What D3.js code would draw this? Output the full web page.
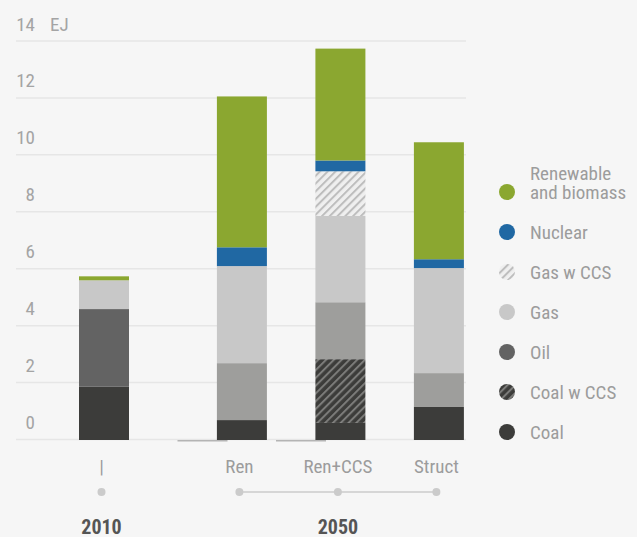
<!DOCTYPE html>
<html>
<head>
<meta charset="utf-8">
<script src="https://cdn.jsdelivr.net/npm/d3@7"></script>
<style>
    html, body { margin: 0; padding: 0; background: #f6f6f6; }
    svg text { font-family: 'Roboto Condensed', 'Liberation Sans Narrow', 'DejaVu Sans Condensed', sans-serif; }
</style>
</head>
<body>
<div id="d3container"></div>
<script>
// scenario columns, left to right
var categories = ['2010', 'Ren', 'Ren+CCS', 'Struct'];
var categoryLabels = ['|', 'Ren', 'Ren+CCS', 'Struct'];
var years = ['2010', '2050'];
var yearOf = ['2010', '2050', '2050', '2050'];
// columns that have an empty 2010 companion bar
var emptyBars = ['Ren', 'Ren+CCS'];

// series, stacked from the bottom up (EJ)
var seriesNames = ['Coal', 'Coal w CCS', 'Oil', 'Gas', 'Gas w CCS', 'Nuclear', 'Renewable and biomass'];
var coal = [1.87, 0.70, 0.60, 1.16];
var coalCCS = [0, 0, 2.24, 0];
var oil = [2.73, 2.00, 2.00, 1.19];
var gas = [1.01, 3.41, 3.03, 3.69];
var gasCCS = [0, 0, 1.57, 0];
var nuclear = [0, 0.66, 0.38, 0.31];
var renewable = [0.14, 5.30, 3.93, 4.11];

var yTicks = [0, 2, 4, 6, 8, 10, 12, 14];

var colors = {
    'Coal': '#3c3c3a',
    'Coal w CCS': 'url(#hatchDark)',
    'Oil': '#636363',
    'Gas': '#c8c8c8',
    'Gas w CCS': 'url(#hatchLight)',
    'Nuclear': '#2068a3',
    'Renewable and biomass': '#8ba730'
};
// oil is drawn lighter in the 2050 columns
var oil2050 = '#9e9e9c';

// build table for the stack
var table = categories.map(function (c, i) {
    return {
        cat: c,
        'Coal': coal[i],
        'Coal w CCS': coalCCS[i],
        'Oil': oil[i],
        'Gas': gas[i],
        'Gas w CCS': gasCCS[i],
        'Nuclear': nuclear[i],
        'Renewable and biomass': renewable[i]
    };
});

var svg = d3.select('#d3container').append('svg')
    .attr('width', 637)
    .attr('height', 537);

// hatch patterns for the CCS series
var defs = svg.append('defs');
function hatch(id, bg, fg) {
    var p = defs.append('pattern')
        .attr('id', id)
        .attr('patternUnits', 'userSpaceOnUse')
        .attr('width', 5.5)
        .attr('height', 5.5)
        .attr('patternTransform', 'rotate(45)');
    p.append('rect').attr('width', 5.5).attr('height', 5.5).attr('fill', bg);
    p.append('line')
        .attr('x1', 1).attr('x2', 1)
        .attr('y1', 0).attr('y2', 5.5)
        .attr('stroke', fg)
        .attr('stroke-width', 2);
}
hatch('hatchDark', '#3c3c3a', '#7c7c7a');
hatch('hatchLight', '#efefef', '#bdbdbd');

var y = d3.scaleLinear()
    .domain([0, 14])
    .range([440, 41.5]);

/*
 2050 columns are evenly spaced, the 2010 column
 sits a bit further to the left
 */
var x = d3.scalePoint()
    .domain(categories)
    .range([143.4, 438.9]);
var yearGap = 39.4;
var barWidth = 50;
function cx(c) {
    var i = categories.indexOf(c);
    return x(c) - (yearOf[i] === '2010' ? yearGap : 0);
}

// gridlines
svg.append('g')
    .selectAll('line')
    .data(yTicks)
    .join('line')
    .attr('x1', 16)
    .attr('x2', 466)
    .attr('y1', function (d) { return y(d) - 0.5; })
    .attr('y2', function (d) { return y(d) - 0.5; })
    .attr('stroke', '#e6e6e6')
    .attr('stroke-width', 1.5);

// y tick labels sit above the gridline
svg.append('g')
    .selectAll('text')
    .data(yTicks)
    .join('text')
    .attr('x', 35)
    .attr('y', function (d) { return y(d) - 11; })
    .attr('text-anchor', 'end')
    .attr('font-size', 19)
    .attr('fill', '#a4a4a4')
    .text(function (d) { return d; });

svg.append('text')
    .attr('x', 50)
    .attr('y', y(14) - 11)
    .attr('font-size', 19)
    .attr('fill', '#a4a4a4')
    .text('EJ');

// empty companion bars, drawn as a thin line on the baseline
svg.append('g')
    .selectAll('rect')
    .data(emptyBars)
    .join('rect')
    .attr('x', function (d) { return x(d) - yearGap - barWidth / 2; })
    .attr('y', y(0))
    .attr('width', barWidth)
    .attr('height', 1.5)
    .attr('fill', '#b4b4b4');

// stacked bars
var stack = d3.stack().keys(seriesNames);
var layers = stack(table);

svg.append('g')
    .selectAll('g')
    .data(layers)
    .join('g')
    .each(function (layer) {
        d3.select(this).selectAll('rect')
            .data(layer.filter(function (d) { return d[1] - d[0] > 0; }))
            .join('rect')
            .attr('x', function (d) { return cx(d.data.cat) - barWidth / 2; })
            .attr('y', function (d) { return y(d[1]); })
            .attr('width', barWidth)
            .attr('height', function (d) { return y(d[0]) - y(d[1]); })
            .attr('fill', function (d) {
                var i = categories.indexOf(d.data.cat);
                if (layer.key === 'Oil' && yearOf[i] === '2050') return oil2050;
                return colors[layer.key];
            });
    });

// category labels
var labelShift = -2.5;
svg.append('g')
    .selectAll('text')
    .data(categories)
    .join('text')
    .attr('x', function (d) { return cx(d) + labelShift; })
    .attr('y', 473)
    .attr('text-anchor', 'middle')
    .attr('font-size', 19)
    .attr('fill', '#9c9c9c')
    .text(function (d, i) { return categoryLabels[i]; });

// timeline with dots
var cats2050 = categories.filter(function (c, i) { return yearOf[i] === '2050'; });
svg.append('line')
    .attr('x1', cx(cats2050[0]) + labelShift)
    .attr('x2', cx(cats2050[cats2050.length - 1]) + labelShift)
    .attr('y1', 492)
    .attr('y2', 492)
    .attr('stroke', '#d6d6d6')
    .attr('stroke-width', 2);

svg.append('g')
    .selectAll('circle')
    .data(categories)
    .join('circle')
    .attr('cx', function (d) { return cx(d) + labelShift; })
    .attr('cy', 492)
    .attr('r', 4)
    .attr('fill', '#cbcbcb');

// year labels centred under their columns
svg.append('g')
    .selectAll('text')
    .data(years)
    .join('text')
    .attr('x', function (yr) {
        var cs = categories.filter(function (c, i) { return yearOf[i] === yr; });
        return (cx(cs[0]) + cx(cs[cs.length - 1])) / 2 + labelShift;
    })
    .attr('y', 534)
    .attr('text-anchor', 'middle')
    .attr('font-size', 20)
    .attr('font-weight', 'bold')
    .attr('fill', '#555555')
    .text(function (d) { return d; });

// legend, top entry first
var legendItems = seriesNames.slice().reverse();
var legend = svg.append('g')
    .selectAll('g')
    .data(legendItems)
    .join('g')
    .attr('transform', function (d, i) { return 'translate(507, ' + (192 + i * 40) + ')'; });

legend.append('circle')
    .attr('r', 8)
    .attr('fill', function (d) { return colors[d]; });

legend.append('text')
    .attr('x', 23)
    .attr('font-size', 19)
    .attr('fill', '#9c9c9c')
    .each(function (d) {
        var t = d3.select(this);
        var lines = d === 'Renewable and biomass' ? ['Renewable', 'and biomass'] : [d];
        lines.forEach(function (l, j) {
            t.append('tspan')
                .attr('x', 23)
                .attr('y', (j - (lines.length - 1)) * 19 + 7)
                .text(l);
        });
    });
</script>
</body>
</html>
